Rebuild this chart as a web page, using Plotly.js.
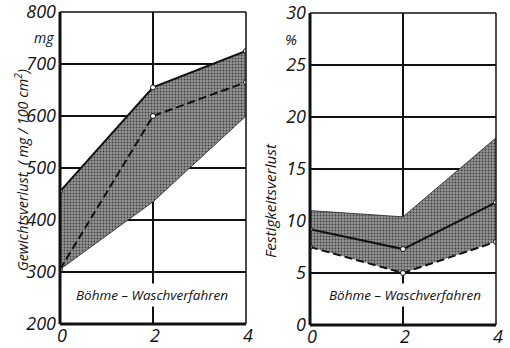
<!DOCTYPE html>
<html><head><meta charset="utf-8">
<script src="https://cdn.plot.ly/plotly-3.0.1.min.js"></script>
<style>
body{margin:0;background:#fff}
#c{width:510px;height:348px}
</style>
</head><body><div id="c"></div><script>
// Data (number of washes vs. losses)
const washes = [0, 2, 4];
const xTicks = [0, 2, 4];
// Gewichtsverlust (mg / 100 cm2)
const gewichtMax = [455, 655, 725];
const gewichtMin = [305, 435, 600];
const gewichtDashed = [305, 600, 665];
const yTicks1 = [200, 300, 400, 500, 600, 700, 800];
// Festigkeitsverlust (%)
const festigMax = [11.0, 10.4, 18.0];
const festigSolid = [9.2, 7.3, 11.8];
const festigDashed = [7.5, 5.0, 8.0];
const yTicks2 = [0, 5, 10, 15, 20, 25, 30];

const FONT = '"Open Sans", "DejaVu Sans Condensed", sans-serif';
const tickFont = {family: FONT, size: 18, color: '#111', style: 'italic'};
const bandFill = '#888888';
const pattern = {shape: '.', bgcolor: '#959595', fgcolor: '#404040', size: 3, solidity: 0.3};
const mk = {symbol: 'circle', size: 5, color: '#fff', line: {color: '#111', width: 1}};

const traces = [
  {x: washes, y: gewichtMin, mode: 'lines', line: {color: '#222', width: 0.8}, xaxis: 'x', yaxis: 'y', hoverinfo: 'skip'},
  {x: washes, y: gewichtMax, mode: 'lines', line: {color: '#222', width: 0}, fill: 'tonexty', fillcolor: bandFill, fillpattern: pattern, xaxis: 'x', yaxis: 'y', hoverinfo: 'skip'},
  {x: washes, y: gewichtMax, mode: 'lines+markers', line: {color: '#111', width: 2}, marker: mk, xaxis: 'x', yaxis: 'y'},
  {x: washes, y: gewichtDashed, mode: 'lines+markers', line: {color: '#111', width: 2, dash: '8px,4px'}, marker: mk, xaxis: 'x', yaxis: 'y'},
  {x: washes, y: festigDashed, mode: 'lines', line: {color: '#222', width: 0}, xaxis: 'x2', yaxis: 'y2', hoverinfo: 'skip'},
  {x: washes, y: festigMax, mode: 'lines', line: {color: '#222', width: 0.8}, fill: 'tonexty', fillcolor: bandFill, fillpattern: pattern, xaxis: 'x2', yaxis: 'y2', hoverinfo: 'skip'},
  {x: washes, y: festigSolid, mode: 'lines+markers', line: {color: '#111', width: 2}, marker: mk, xaxis: 'x2', yaxis: 'y2'},
  {x: washes, y: festigDashed, mode: 'lines+markers', line: {color: '#111', width: 2, dash: '8px,4px'}, marker: mk, xaxis: 'x2', yaxis: 'y2'}
];

function xa(domain, anchor) {
  return {domain: domain, anchor: anchor, range: [0, 4], tickvals: xTicks, ticktext: xTicks.map(String),
    showgrid: true, gridcolor: '#111', gridwidth: 1.2, zeroline: false, showline: false,
    ticks: '', ticklabelstandoff: -1, ticklabelshift: 2, ticklabeloverflow: 'allow',
    tickfont: tickFont, fixedrange: true};
}
function ya(domain, anchor, range, vals) {
  return {domain: domain, anchor: anchor, range: range, tickvals: vals, ticktext: vals.map(String),
    showgrid: true, gridcolor: '#111', gridwidth: 1.2, zeroline: false, showline: false,
    ticks: '', ticklabelstandoff: 3, ticklabeloverflow: 'allow', tickfont: tickFont, fixedrange: true};
}
function frame(xr, yr) {
  const base = {type: 'line', xref: xr + ' domain', yref: yr + ' domain', layer: 'above'};
  return [
    Object.assign({}, base, {x0: 0, x1: 1, y0: 1, y1: 1, line: {color: '#111', width: 1.5}}),
    Object.assign({}, base, {x0: 1, x1: 1, y0: 0, y1: 1, line: {color: '#111', width: 1.5}}),
    Object.assign({}, base, {x0: 0, x1: 0, y0: 0, y1: 1, line: {color: '#111', width: 3}}),
    Object.assign({}, base, {x0: 0, x1: 1, y0: 0, y1: 0, line: {color: '#111', width: 3}})
  ];
}
function f(size) { return {family: FONT, size: size, color: '#111', style: 'italic'}; }
function ann(text, x, y, extra) {
  return Object.assign({text: text, xref: 'paper', yref: 'paper', x: x / 510, y: 1 - y / 348,
    xanchor: 'center', yanchor: 'middle', showarrow: false, font: f(13.5)}, extra || {});
}
const layout = {
  width: 510, height: 348,
  margin: {l: 0, r: 0, t: 0, b: 0},
  paper_bgcolor: '#fff', plot_bgcolor: '#fff',
  showlegend: false,
  xaxis: xa([60/510, 246/510], 'y'),
  yaxis: ya([1 - 324/348, 1 - 12/348], 'x', [200, 800], yTicks1),
  xaxis2: xa([310/510, 496/510], 'y2'),
  yaxis2: ya([1 - 325/348, 1 - 13/348], 'x2', [0, 30], yTicks2),
  shapes: frame('x', 'y').concat(frame('x2', 'y2')),
  annotations: [
    ann('mg', 44, 37, {font: f(14)}),
    ann('%', 291, 39, {font: f(15)}),
    ann('Gewichtsverlust  ( mg / 100 cm<sup>2</sup>)', 21, 170, {textangle: -90, font: f(14.3)}),
    ann('Festigkeitsverlust', 270, 201, {textangle: -90, font: f(15.3)}),
    ann('Böhme – Waschverfahren', 152, 295, {bgcolor: '#fff', borderpad: 2}),
    ann('Böhme – Waschverfahren', 405, 295, {bgcolor: '#fff', borderpad: 2})
  ]
};
Plotly.newPlot('c', traces, layout, {staticPlot: true, displayModeBar: false});
</script></body></html>
